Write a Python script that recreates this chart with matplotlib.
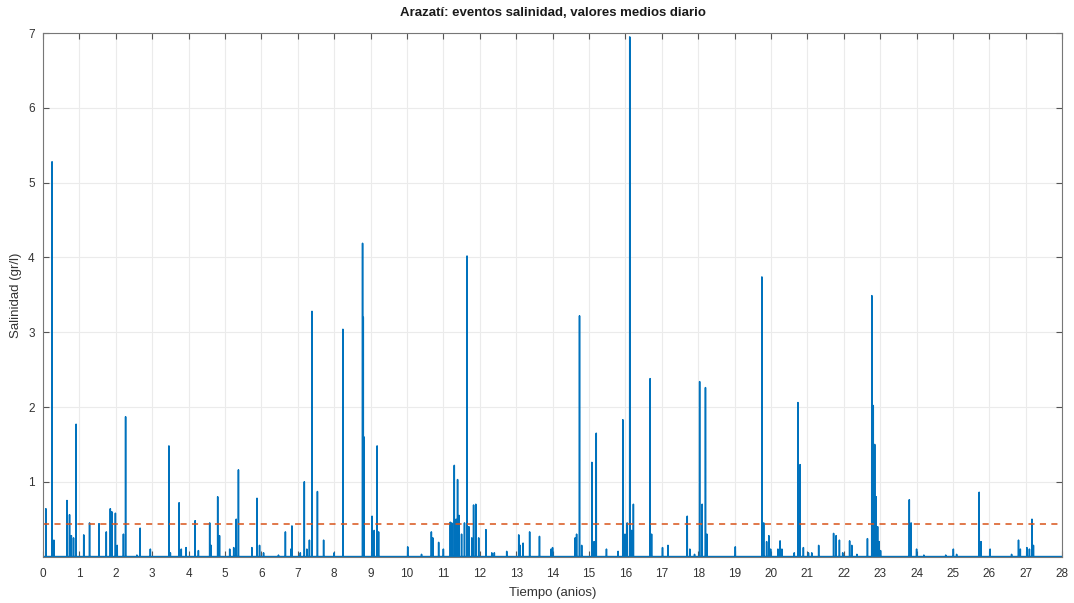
import numpy as np
import matplotlib
matplotlib.use("Agg")
import matplotlib.pyplot as plt

plt.rcParams['font.family'] = ['Liberation Sans', 'DejaVu Sans']

# Salinity events: time of the daily peak (years) and its value (g/l)
event_t = [
    0.08, 0.25, 0.30, 0.66, 0.73, 0.78, 0.84, 0.91, 1.12, 1.28, 1.54, 1.74, 1.85,
    1.89, 1.99, 2.04, 2.21, 2.27, 2.58, 2.67, 2.95, 3.46, 3.50, 3.74, 3.80, 3.93,
    4.18, 4.27, 4.58, 4.62, 4.80, 4.85, 5.13, 5.24, 5.31, 5.37, 5.74, 5.88, 5.95,
    6.06, 6.47, 6.66, 6.81, 6.84, 7.07, 7.18, 7.25, 7.32, 7.39, 7.54, 7.71, 8.00,
    8.24, 8.78, 8.80, 8.82, 9.04, 9.10, 9.18, 9.22, 10.02, 10.40, 10.67, 10.71,
    10.87, 11.00, 11.19, 11.23, 11.30, 11.35, 11.39, 11.43, 11.50, 11.58, 11.65,
    11.70, 11.78, 11.83, 11.89, 11.97, 12.17, 12.33, 12.40, 12.74, 13.07, 13.11,
    13.19, 13.37, 13.64, 13.96, 14.00, 14.62, 14.66, 14.74, 14.80, 15.08, 15.14,
    15.20, 15.48, 15.80, 15.93, 15.99, 16.05, 16.12, 16.17, 16.22, 16.68, 16.72,
    17.02, 17.17, 17.70, 17.77, 17.90, 18.04, 18.11, 18.20, 18.24, 19.02, 19.75,
    19.80, 19.88, 19.94, 19.99, 20.19, 20.25, 20.30, 20.64, 20.74, 20.80, 20.89,
    21.03, 21.12, 21.31, 21.72, 21.79, 21.88, 21.97, 22.16, 22.22, 22.36, 22.65,
    22.77, 22.81, 22.85, 22.89, 22.93, 22.97, 23.01, 23.80, 23.85, 24.00, 24.20,
    24.80, 25.01, 25.10, 25.72, 25.77, 26.02, 26.61, 26.80, 26.85, 27.03, 27.10,
    27.17, 27.21,
]
event_v = [
    0.64, 5.28, 0.22, 0.75, 0.56, 0.28, 0.25, 1.77, 0.29, 0.45, 0.44, 0.33, 0.64,
    0.60, 0.58, 0.15, 0.30, 1.87, 0.02, 0.38, 0.10, 1.48, 0.05, 0.72, 0.10, 0.12,
    0.48, 0.08, 0.45, 0.15, 0.80, 0.28, 0.10, 0.12, 0.50, 1.16, 0.12, 0.78, 0.15,
    0.05, 0.02, 0.33, 0.10, 0.41, 0.05, 1.00, 0.10, 0.22, 3.28, 0.87, 0.22, 0.05,
    3.04, 4.19, 3.20, 1.60, 0.54, 0.35, 1.48, 0.33, 0.13, 0.03, 0.33, 0.25,
    0.19, 0.10, 0.46, 0.45, 1.22, 0.50, 1.03, 0.55, 0.30, 0.45, 4.02,
    0.40, 0.25, 0.69, 0.70, 0.25, 0.36, 0.05, 0.05, 0.07, 0.29, 0.15,
    0.18, 0.33, 0.27, 0.10, 0.12, 0.25, 0.30, 3.22, 0.15, 1.26, 0.20,
    1.65, 0.10, 0.07, 1.83, 0.30, 0.45, 6.95, 0.35, 0.70, 2.38, 0.30,
    0.12, 0.15, 0.54, 0.10, 0.03, 2.34, 0.70, 2.26, 0.30, 0.13, 3.74,
    0.45, 0.20, 0.28, 0.10, 0.10, 0.21, 0.10, 0.05, 2.06, 1.23, 0.12,
    0.05, 0.05, 0.15, 0.31, 0.28, 0.22, 0.05, 0.21, 0.15, 0.03, 0.24,
    3.49, 2.02, 1.50, 0.80, 0.40, 0.20, 0.08, 0.76, 0.45, 0.10, 0.02,
    0.02, 0.10, 0.03, 0.86, 0.20, 0.10, 0.03, 0.22, 0.10, 0.12, 0.10,
    0.50, 0.15,
]

umbral = 0.44          # event threshold (g/l)
x_ticks = list(range(0, 29))
y_ticks = list(range(1, 8))

# Daily series: each event rises from the baseline for one day
day = 1.0 / 365.0
order = np.argsort(event_t)
t_series = [0.0]
v_series = [0.0]
for i in order:
    t, v = event_t[i], event_v[i]
    t_series += [t - day, t, t + day]
    v_series += [0.0, v, 0.0]
t_series.append(28.0)
v_series.append(0.0)

fig = plt.figure(figsize=(10.74, 6.03), dpi=100)
ax = fig.add_axes([0.040, 0.077, 0.949, 0.868])

ax.plot(t_series, v_series, color='#0072BD', linewidth=1.1)
ax.axhline(umbral, color='#D95319', linestyle=(0, (4, 3.5)), linewidth=1.1)

ax.set_xlim(0, 28)
ax.set_ylim(0, 7)
ax.set_xticks(x_ticks)
ax.set_yticks(y_ticks)
ax.grid(True, color='#ebebeb', linewidth=0.8)
ax.set_axisbelow(True)
ax.tick_params(direction='in', length=4, width=0.8, colors='#555555',
               labelcolor='#333333', labelsize=8.5,
               top=True, right=True)
ax.tick_params(axis='x', pad=8)
ax.tick_params(axis='y', pad=6)
for s in ax.spines.values():
    s.set_color('#777777')
    s.set_linewidth(0.8)

ax.set_title('Arazatí: eventos salinidad, valores medios diario',
             fontsize=9.5, fontweight='bold', color='#1a1a1a', pad=12)
ax.set_xlabel('Tiempo (anios)', fontsize=9.5, color='#333333', labelpad=5)
ax.set_ylabel('Salinidad (gr/l)', fontsize=9.5, color='#333333', labelpad=4)

fig.savefig('out.png', dpi=100)
